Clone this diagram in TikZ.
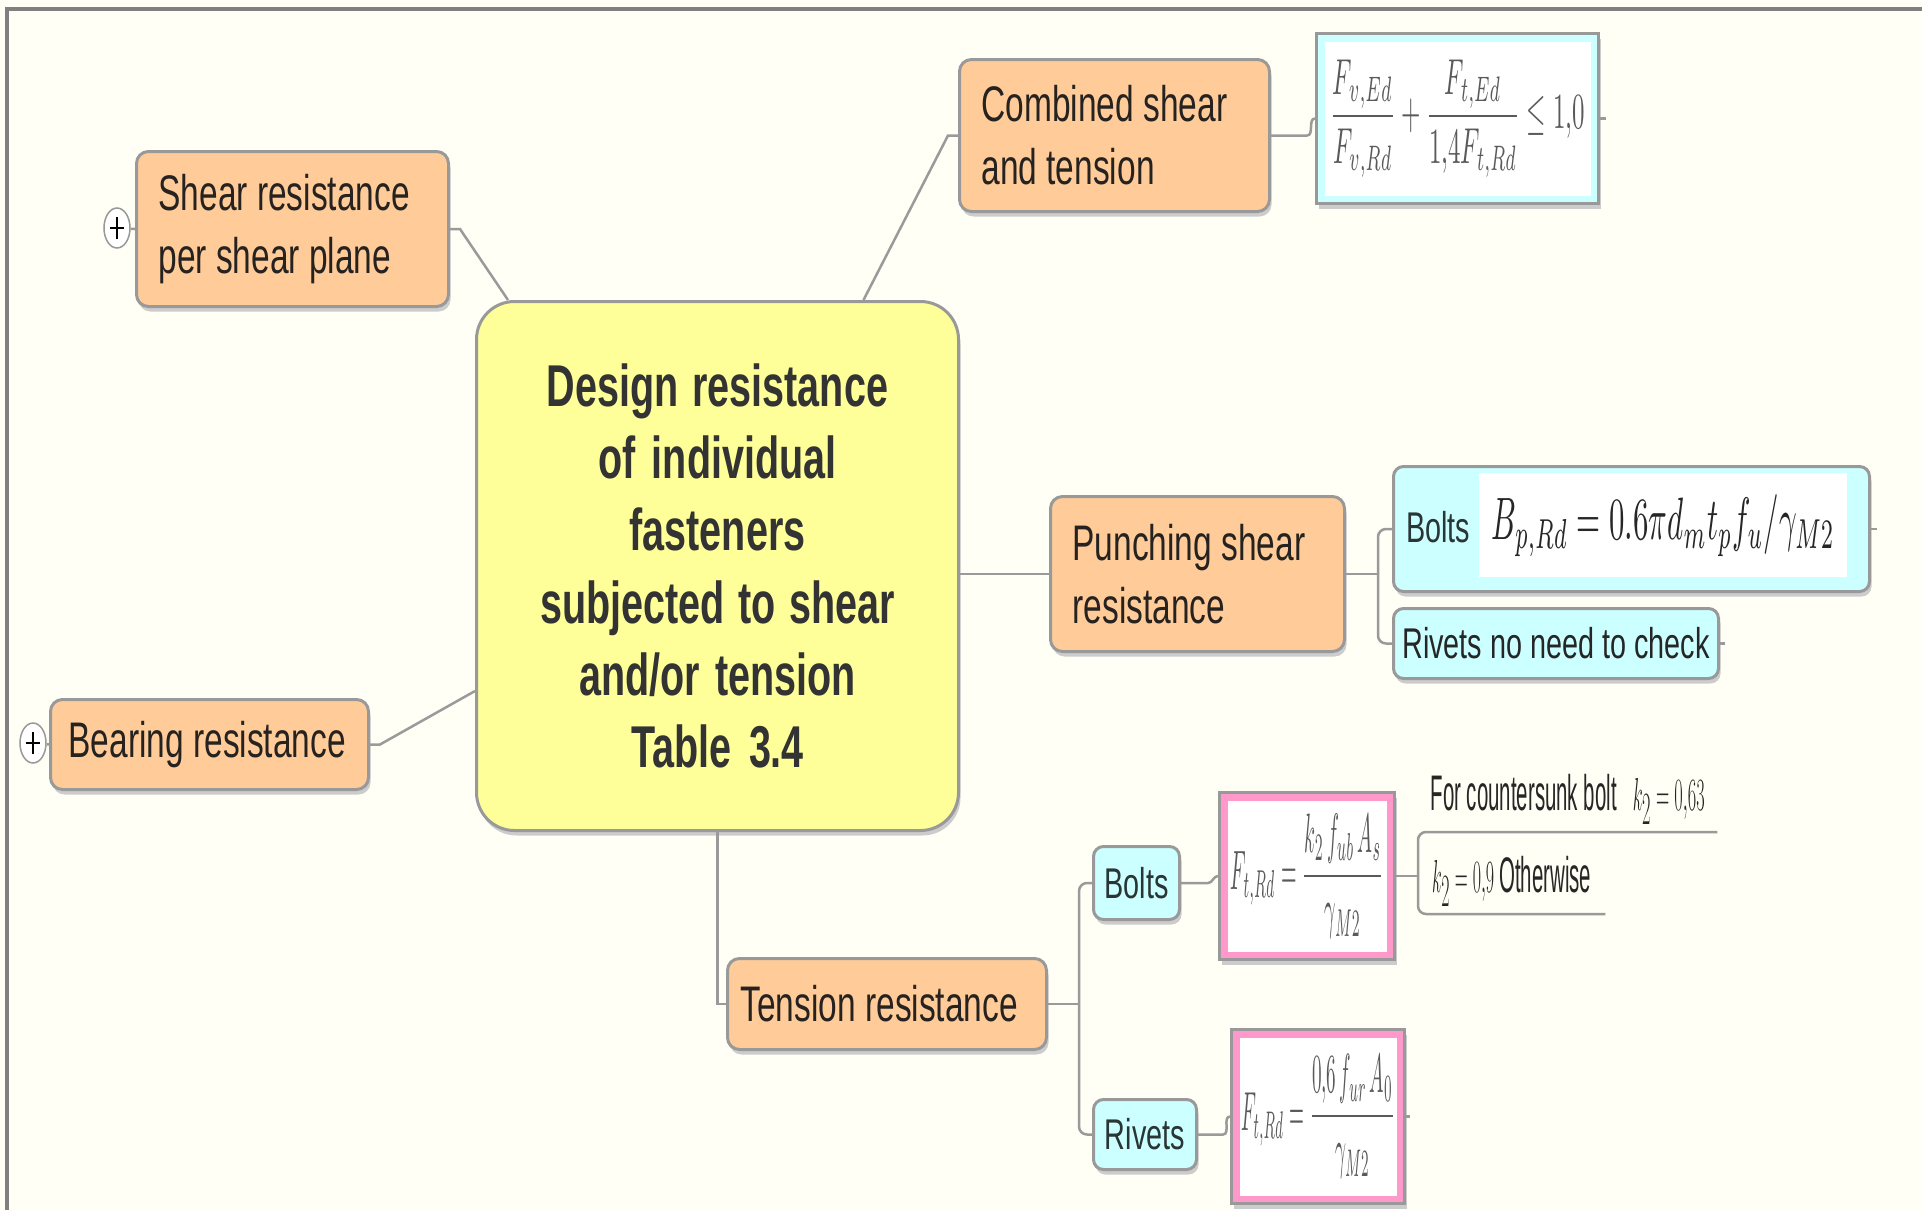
\documentclass[tikz,border=0pt]{standalone}
\usepackage{fontspec}
\usepackage{amsmath}
\usepackage{graphicx}
\usetikzlibrary{shadows,shapes.geometric}
\newfontfamily\narrowsans[FakeStretch=0.67]{Liberation Sans}
\hyphenpenalty=10000
\exhyphenpenalty=10000
% keep the font's own interword space inside aligned nodes
\newcommand\fontspaces{\spaceskip=0pt\xspaceskip=0pt\relax}

\definecolor{bgcream}{HTML}{FFFFF5}
\definecolor{peach}{HTML}{FFCC99}
\definecolor{lemon}{HTML}{FFFF99}
\definecolor{paleaqua}{HTML}{CCFFFF}
\definecolor{rosepink}{HTML}{FF99CC}
\definecolor{edgegray}{HTML}{999999}
\definecolor{framegray}{HTML}{808080}
\definecolor{linegray}{HTML}{9A9A9A}
\definecolor{inkdark}{HTML}{262220}
\definecolor{inkslate}{HTML}{2A3535}
\definecolor{mathgray}{HTML}{5A5A5A}

\tikzset{
  boxshadow/.style={drop shadow={shadow xshift=2pt, shadow yshift=-5pt, fill=black!20, opacity=1}},
  topic/.style={boxshadow, draw=edgegray, line width=3pt, fill=peach, rounded corners=12pt,
    inner ysep=0pt, anchor=north west, align=left, text=inkdark,
    font=\narrowsans\fontsize{50}{63}\selectfont, execute at begin node=\fontspaces},
  hub/.style={boxshadow, draw=edgegray, line width=3pt, fill=lemon, rounded corners=38pt,
    inner sep=10pt, anchor=north west, align=center, text=black!80,
    font=\narrowsans\bfseries\fontsize{59}{72.3}\selectfont, execute at begin node=\fontspaces},
  leaf/.style={boxshadow, draw=edgegray, line width=3pt, fill=paleaqua, rounded corners=10pt,
    inner xsep=8pt, inner ysep=0pt, anchor=north west, text=inkslate,
    font=\narrowsans\fontsize{43}{50}\selectfont},
  fbox/.style={boxshadow, draw=edgegray, line width=3pt, fill=#1, inner sep=0pt,
    anchor=north west, text=mathgray, font=\normalfont\normalsize,
    path picture={\fill[white] ([shift={(8,8)}]path picture bounding box.north west)
      rectangle ([shift={(-8,-8)}]path picture bounding box.south east);}},
  note/.style={anchor=south west, inner xsep=0pt, inner ysep=0pt, text=black!85,
    minimum height=64pt, font=\narrowsans\fontsize{50}{60}\selectfont},
  conn/.style={draw=linegray, line width=2.5pt},
  expander/.style={ellipse, draw=edgegray, line width=1.5pt, fill=white, inner sep=0pt,
    minimum width=26pt, minimum height=40pt},
  plusbar/.style={line width=2.5pt, black}
}

\begin{document}
\begin{tikzpicture}[x=1pt,y=-1pt]
\useasboundingbox (0,0) rectangle (1922,1210);
\fill[bgcream] (0,0) rectangle (1922,1210);
% outer frame (top and left edges)
\draw[framegray, line width=4pt] (7,1210) -- (7,9) -- (1922,9);

% central topic
\node[hub, text width=462pt, minimum height=529pt] (central) at (475,300)
  {Design resistance\\of individual\\fasteners\\subjected to shear\\and/or tension\\Table 3.4};

% main branches
\node[topic, inner xsep=22pt, text width=268pt, minimum height=155pt] (shear) at (135,150)
  {Shear resistance\\per shear plane};
\node[topic, inner xsep=18pt, text width=282pt, minimum height=90pt] (bearing) at (49,698)
  {Bearing resistance};
\node[topic, inner xsep=22pt, text width=266pt, minimum height=152pt] (combined) at (958,58)
  {Combined shear\\and tension};
\node[topic, inner xsep=22pt, text width=250pt, minimum height=155pt] (punching) at (1049,495)
  {Punching shear\\resistance};
\node[topic, inner xsep=13pt, text width=293pt, minimum height=91pt] (tension) at (726,957)
  {Tension resistance};

% collapsed-branch markers
\node[expander] (exshear) at (117,228) {};
\node[expander] (exbearing) at (33,743) {};
\foreach \m in {exshear,exbearing}{
  \draw[plusbar] ([xshift=-7pt]\m.center) -- ([xshift=7pt]\m.center);
  \draw[plusbar] ([yshift=-11pt]\m.center) -- ([yshift=11pt]\m.center);
}

% combined shear and tension formula
\node[fbox=paleaqua, minimum width=282pt, minimum height=170pt] (fcomb) at (1315,32)
  {\resizebox*{255pt}{118pt}{$\dfrac{F_{v,Ed}}{F_{v,Rd}}+\dfrac{F_{t,Ed}}{1{,}4F_{t,Rd}}\leq 1{,}0$}};

% punching shear leaves
\node[leaf, minimum width=476pt, minimum height=125pt] (bp) at (1392,465) {};
\node[anchor=west, inner sep=0pt, text=inkslate, font=\narrowsans\fontsize{43}{50}\selectfont]
  (bplabel) at (1406,527) {Bolts};
\node[anchor=north west, fill=white, inner sep=0pt, minimum width=368pt, minimum height=104pt,
  text=black!85] (bpform) at (1479,473)
  {\resizebox*{343pt}{62pt}{$B_{p,Rd}=0.6\pi d_m t_p f_u/\gamma_{M2}$}};
\node[leaf, minimum width=325pt, minimum height=70pt, text=black!85] (rv) at (1392,607)
  {Rivets no need to check};

% tension leaves
\node[leaf, inner xsep=0pt, minimum width=86pt, minimum height=73pt] (sb) at (1092,845) {Bolts};
\node[leaf, inner xsep=0pt, minimum width=103pt, minimum height=70pt] (sr) at (1092,1098) {Rivets};
\node[fbox=rosepink, minimum width=175pt, minimum height=167pt] (ftb) at (1218,791)
  {\resizebox*{153pt}{125pt}{$F_{t,Rd}=\dfrac{k_2\,f_{ub}\,A_s}{\gamma_{M2}}$}};
\node[fbox=rosepink, minimum width=173pt, minimum height=174pt] (ftr) at (1230,1028)
  {\resizebox*{154pt}{124pt}{$F_{t,Rd}=\dfrac{0{,}6\,f_{ur}\,A_0}{\gamma_{M2}}$}};

% k2 notes
\node[note, minimum width=299pt] (ktop) at (1418,832)
  {\scalebox{0.61}[1]{For countersunk bolt}\hspace{16pt}\resizebox*{72pt}{46pt}{$k_2=0{,}63$}};
\node[note, minimum width=187pt] (kbot) at (1418,914)
  {\resizebox*{62pt}{46pt}{$k_2=0{,}9$}\hspace{5pt}\scalebox{0.61}[1]{Otherwise}};

% connectors
\draw[conn] (exshear) -- (shear.west);
\draw[conn] (exbearing) -- (bearing.west);
\draw[conn] (shear.east) -- ++(10,0) -- ([shift={(33,0)}]central.north west);
\draw[conn] (bearing.east) -- ++(10,0) -- ([shift={(0,125)}]central.west);
\draw[conn] ([shift={(146,0)}]central.north) -- ([shift={(-10,0)}]combined.west) -- (combined.west);
\draw[conn] (combined.east) -- ++(36,0) to[out=0,in=180] (fcomb.west);
\draw[conn] (fcomb.east) -- ++(6,0);
\draw[conn] (central.east |- punching.west) -- (punching.west);
\coordinate (bx1) at ([shift={(-14,0)}]bp.west);
\draw[conn] (punching.east) -- (punching.east -| bx1);
\draw[conn, rounded corners=8pt] (bp.west) -- (bx1) |- (rv.west);
\draw[conn] (bp.east) -- ++(6,0);
\draw[conn] (rv.east) -- ++(5,0);
\draw[conn] (central.south) |- (tension.west);
\coordinate (bx2) at ([shift={(-13,0)}]sb.west);
\draw[conn] (tension.east) -- (tension.east -| bx2);
\draw[conn, rounded corners=8pt] (sb.west) -- (bx2) |- (sr.west);
\draw[conn] (sb.east) -- ++(27,0) to[out=0,in=180] (ftb.west);
\draw[conn] (sr.east) -- ++(25,0) to[out=0,in=180] (ftr.west);
\draw[conn] (ftr.east) -- ++(4,0);
\draw[conn] (ftb.east) -- (ftb.east -| ktop.south west);
\draw[conn, rounded corners=8pt] (ktop.south east) -- (ktop.south west) -- (kbot.south west) -- (kbot.south east);
\end{tikzpicture}
\end{document}
